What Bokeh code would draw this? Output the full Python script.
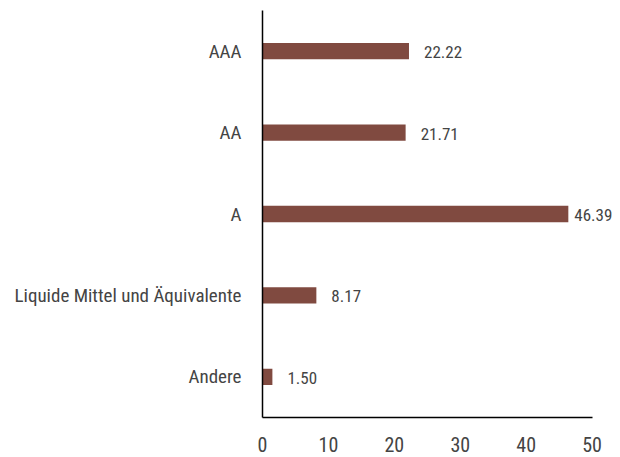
from bokeh.plotting import figure
from bokeh.models import ColumnDataSource, FactorRange, Range1d
from bokeh.core.properties import value
from bokeh.embed import file_html
from bokeh.resources import INLINE

categories = ["AAA", "AA", "A", "Liquide Mittel und Äquivalente", "Andere"]
values = [22.22, 21.71, 46.39, 8.17, 1.50]
x_ticks = [0, 10, 20, 30, 40, 50]

FONT = "Roboto Condensed"
TEXT = "#444444"
BAR = "#804a40"

labels = ["%.2f" % v for v in values]
# labels next to long bars are drawn closer so they stay inside the chart
offsets = [15 if v < 40 else 6 for v in values]
src = ColumnDataSource(dict(cat=categories, val=values, lab=labels, off=offsets))

p = figure(
    width=620, height=457,
    y_range=FactorRange(*reversed(categories), range_padding=0),
    x_range=Range1d(0, 54),
    output_backend="svg", toolbar_location=None,
    min_border_left=262, min_border_right=2,
    min_border_top=10, min_border_bottom=40,
)
p.outline_line_color = None
p.xgrid.grid_line_color = None
p.ygrid.grid_line_color = None

p.hbar(y="cat", right="val", left=0, height=0.2, source=src,
       fill_color=BAR, line_color=None)
p.text(x="val", y="cat", text="lab", source=src, x_offset="off", y_offset=1,
       text_baseline="middle", text_align="left",
       text_font=value(FONT), text_font_size="17px", text_color=TEXT)

for ax in (p.xaxis[0], p.yaxis[0]):
    ax.axis_line_color = "black"
    ax.axis_line_width = 1.5
    ax.major_tick_line_color = None
    ax.minor_tick_line_color = None
    ax.major_label_text_font = FONT
    ax.major_label_text_color = TEXT

p.xaxis.ticker = x_ticks
p.xaxis.bounds = (0, 50)
p.xaxis.major_label_text_font_size = "20px"
p.xaxis.major_label_standoff = 13
p.yaxis.major_label_text_font_size = "19px"
p.yaxis.major_label_standoff = 15

open("out.html", "w").write(file_html(p, INLINE))
